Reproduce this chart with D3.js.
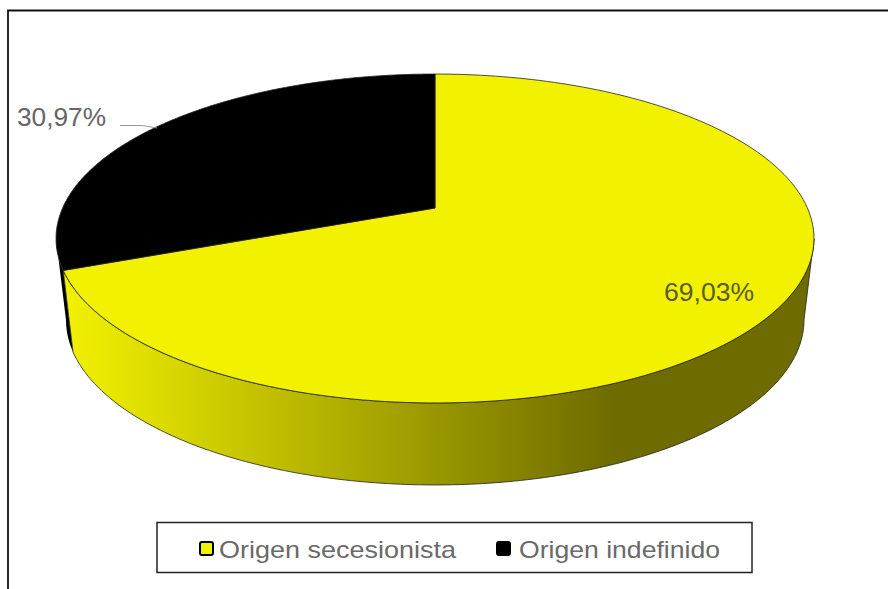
<!DOCTYPE html>
<html>
<head>
<meta charset="utf-8">
<script src="https://cdnjs.cloudflare.com/ajax/libs/d3/7.8.5/d3.min.js"></script>
<style>
  html, body { margin: 0; padding: 0; background: #fff; overflow: hidden; }
  text { font-family: "Liberation Sans", Arial, sans-serif; }
</style>
</head>
<body>
<div id="vis"></div>
<script>
const FRAME_WIDTH = 888;
const FRAME_HEIGHT = 589;

// data
const categories = ["Origen secesionista", "Origen indefinido"];
const values = [69.03, 30.97];
const labels = ["69,03%", "30,97%"];
const colors = ["#f2f200", "#000000"];

const svg = d3.select("#vis").append("svg")
  .attr("width", FRAME_WIDTH)
  .attr("height", FRAME_HEIGHT);

// outer frame, only left and top are in the crop
svg.append("path")
  .attr("d", "M8,589V10.5H888")
  .attr("fill", "none")
  .attr("stroke", "#111")
  .attr("stroke-width", 1.8);

// angles come from d3.pie, clockwise from 12 o'clock
const arcs = d3.pie().sort(null)(values);

// perspective projection of the tilted disc
const K = -0.1854;
const topRim = {cx: 435, cy: 208, r: 372.4, s: 158.8};
const lowRim = {cx: 435, cy: 289.4, r: 362.6, s: 159.3};

function project(rim, a) {
  const x = Math.sin(a), y = -Math.cos(a), d = 1 + K * y;
  return [rim.cx + rim.r * x / d, rim.cy + rim.s * y / d];
}

// widest points of the disc, where the wall stops being visible
const EDGE_R = Math.acos(K);
const EDGE_L = 2 * Math.PI - EDGE_R;

function rimPoints(rim, a0, a1) {
  return d3.range(0, 181).map(i => project(rim, a0 + (a1 - a0) * i / 180));
}

const line = d3.line();

// wall gradient, flat olive on the right
const defs = svg.append("defs");
const grad = defs.append("linearGradient")
  .attr("id", "wall")
  .attr("gradientUnits", "userSpaceOnUse")
  .attr("x1", 63).attr("x2", 615).attr("y1", 0).attr("y2", 0);
grad.append("stop").attr("offset", 0).attr("stop-color", "#f2f200");
grad.append("stop").attr("offset", 1).attr("stop-color", "#6e6b00");

// walls: yellow up to the cut, black from the cut to the left edge
const wallYellow = rimPoints(topRim, EDGE_R, arcs[0].endAngle)
  .concat(rimPoints(lowRim, arcs[0].endAngle, EDGE_R));
const wallBlack = rimPoints(topRim, arcs[1].startAngle, EDGE_L)
  .concat(rimPoints(lowRim, EDGE_L, arcs[1].startAngle));

svg.append("path").attr("d", line(wallBlack) + "Z").attr("fill", "#000");
svg.append("path").attr("d", line(wallYellow) + "Z")
  .attr("fill", "url(#wall)")
  .attr("stroke", "#222").attr("stroke-width", 0.8);

// top face
svg.selectAll(".slice")
  .data(arcs)
  .enter()
  .append("path")
    .attr("class", "slice")
    .attr("d", d => line([[topRim.cx, topRim.cy]].concat(rimPoints(topRim, d.startAngle, d.endAngle))) + "Z")
    .attr("fill", (d, i) => colors[i])
    .attr("stroke", "#222")
    .attr("stroke-width", 0.8);

// value labels, the picture is stretched sideways so the widths are forced
svg.append("text").attr("x", 664).attr("y", 301)
  .attr("font-size", 25).attr("fill", "#5c5c24")
  .attr("textLength", 90).attr("lengthAdjust", "spacingAndGlyphs")
  .text(labels[0]);
svg.append("text").attr("x", 17).attr("y", 126)
  .attr("font-size", 25).attr("fill", "#666")
  .attr("textLength", 89).attr("lengthAdjust", "spacingAndGlyphs")
  .text(labels[1]);

// leader line of the small slice
svg.append("path")
  .attr("d", "M120,125.5H142L157,128")
  .attr("fill", "none").attr("stroke", "#999").attr("stroke-width", 1);

// legend
svg.append("rect")
  .attr("x", 157).attr("y", 522.5).attr("width", 595).attr("height", 50)
  .attr("fill", "#fff").attr("stroke", "#222").attr("stroke-width", 1.5);

const swatchX = [200, 497];
const textX = [219, 519];
const textW = [237, 201];
categories.forEach((c, i) => {
  svg.append("rect")
    .attr("x", swatchX[i]).attr("y", 542)
    .attr("width", 13).attr("height", 13).attr("rx", 2)
    .attr("fill", colors[i]).attr("stroke", "#000").attr("stroke-width", 2);
  svg.append("text")
    .attr("x", textX[i]).attr("y", 558)
    .attr("font-size", 24).attr("fill", "#6a6a6a")
    .attr("textLength", textW[i]).attr("lengthAdjust", "spacingAndGlyphs")
    .text(c);
});
</script>
</body>
</html>
